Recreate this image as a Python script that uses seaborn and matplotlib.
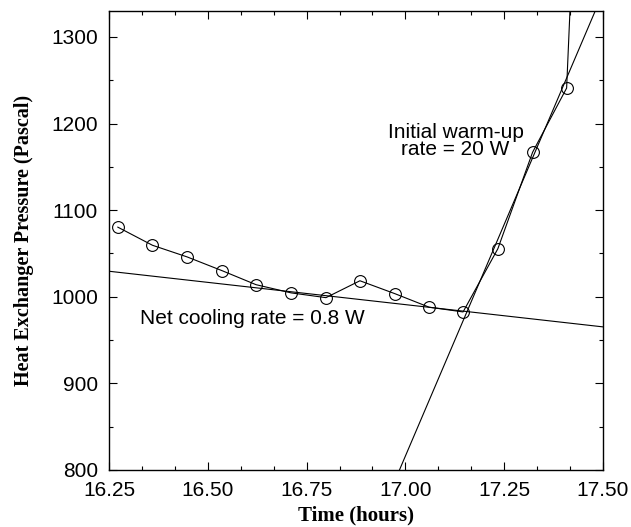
import numpy as np
import pandas as pd
import matplotlib
matplotlib.use("Agg")
import matplotlib.pyplot as plt
from matplotlib.ticker import MultipleLocator, FormatStrFormatter
import seaborn as sns

time_h = [16.272, 16.360, 16.448, 16.537, 16.622, 16.711, 16.799,
          16.885, 16.974, 17.060, 17.146, 17.234, 17.322, 17.408, 17.495]
pressure = [1080.5, 1059.5, 1046.0, 1030.0, 1014.0, 1004.5, 999.0,
            1018.5, 1003.5, 988.0, 982.5, 1055.5, 1167.0, 1241.0, 2160.0]

# Droites d'ajustement : (pente Pa/h, point de référence x, y)
cool_fit = [-51.4, 16.25, 1029.5]
warm_fit = [1070.0, 16.985, 800.0]

x_min, x_max = 16.25, 17.50
y_min, y_max = 800, 1330

sns.set_style("ticks")
plt.rcParams["font.family"] = ["Liberation Sans", "DejaVu Sans"]
plt.rcParams["text.color"] = "black"
plt.rcParams["axes.labelcolor"] = "black"

df = pd.DataFrame({"time": time_h, "pressure": pressure})

fig = plt.figure(figsize=(6.31, 5.27), dpi=100)
ax = fig.add_axes([0.1727, 0.1082, 0.7829, 0.8709])

# Données brutes avec cercles ouverts
sns.lineplot(data=df, x="time", y="pressure", ax=ax, color="black", lw=0.8,
             marker="o", markersize=8.5, markerfacecolor="none",
             markeredgecolor="black", markeredgewidth=0.8)

# Droites de tendance
xs = np.array([x_min, x_max])
for slope, x0, y0 in [cool_fit, warm_fit]:
    sns.lineplot(x=xs, y=y0 + slope * (xs - x0), ax=ax, color="black", lw=0.8)

ax.set_xlim(x_min, x_max)
ax.set_ylim(y_min, y_max)
ax.xaxis.set_major_locator(MultipleLocator(0.25))
ax.xaxis.set_minor_locator(MultipleLocator(1 / 12))
ax.yaxis.set_major_locator(MultipleLocator(100))
ax.yaxis.set_minor_locator(MultipleLocator(50))
ax.xaxis.set_major_formatter(FormatStrFormatter("%.2f"))

ax.tick_params(which="both", direction="in", top=True, right=True,
               labelsize=15, width=0.8, colors="black")
ax.tick_params(which="major", length=6, pad=8)
ax.tick_params(which="minor", length=3)
for sp in ax.spines.values():
    sp.set_linewidth(1.0)
    sp.set_color("black")

ax.set_xlabel("Time (hours)", family="Liberation Serif", fontweight="bold",
              fontsize=15, labelpad=4)
ax.set_ylabel("Heat Exchanger Pressure (Pascal)", family="Liberation Serif",
              fontweight="bold", fontsize=14.5, labelpad=12)

ax.text(17.127, 1180, "Initial warm-up\nrate = 20 W", ha="center", va="center",
        fontsize=15, linespacing=0.92)
ax.text(16.328, 975, "Net cooling rate = 0.8 W", ha="left", va="center",
        fontsize=15)

fig.savefig("out.png", dpi=100)
